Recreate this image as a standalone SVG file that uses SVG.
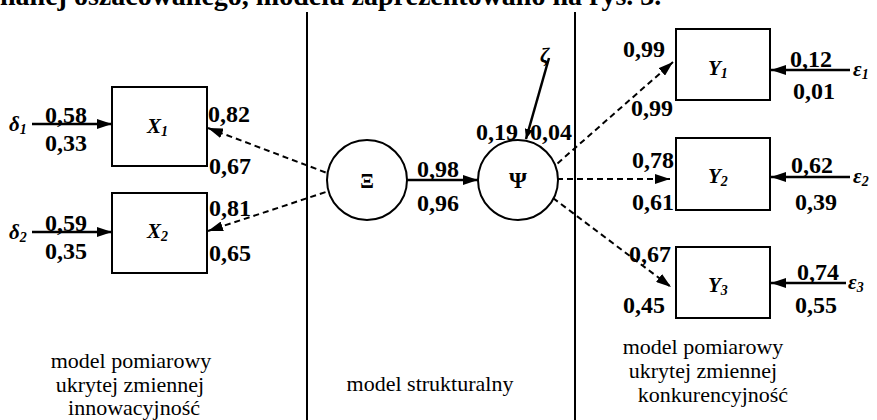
<svg xmlns="http://www.w3.org/2000/svg" width="877" height="420" viewBox="0 0 877 420">
<defs>
<marker id="ah" markerWidth="10" markerHeight="8" refX="10" refY="4" orient="auto" markerUnits="userSpaceOnUse">
<path d="M0,0 L10,4 L0,8 Z" fill="#000"/>
</marker>
<marker id="ahb" markerWidth="16" markerHeight="10" refX="15" refY="5" orient="auto" markerUnits="userSpaceOnUse">
<path d="M0,0 L15,5 L0,10 Z" fill="#000"/>
</marker>
<style>
text{font-family:"Liberation Serif","Times New Roman",serif;fill:#000}
.n{font-size:24px;font-weight:bold}
.v{font-size:21px;font-style:italic;font-weight:bold}
.s{font-size:14px}
.lbl{font-size:22px;text-anchor:middle}
.box{fill:#fff;stroke:#000;stroke-width:2}
.circ{fill:#fff;stroke:#000;stroke-width:2}
.solid{stroke:#000;stroke-width:2.5;fill:none}
.dash{stroke:#000;stroke-width:2;stroke-dasharray:6,4;fill:none}
.sep{stroke:#000;stroke-width:2}
</style>
</defs>
<rect width="877" height="420" fill="#fff"/>
<text x="0" y="5" style="font-size:28px;font-weight:bold">nanej oszacowanego, modelu zaprezentowano na rys. 3.</text>
<g id="separators">
<line class="sep" x1="307" y1="12" x2="307" y2="420"/>
<line class="sep" x1="575" y1="12" x2="575" y2="420"/>
</g>
<g id="connectors">
<line class="solid" x1="32" y1="124" x2="112" y2="124" marker-end="url(#ahb)"/>
<line class="solid" x1="32" y1="232" x2="112" y2="232" marker-end="url(#ahb)"/>
<line class="dash" x1="335" y1="176" x2="208" y2="128" marker-end="url(#ahb)"/>
<line class="dash" x1="335" y1="189" x2="208" y2="231" marker-end="url(#ahb)"/>
<line class="solid" x1="407" y1="180" x2="478" y2="180" marker-end="url(#ahb)"/>
<line class="solid" x1="549" y1="58" x2="526" y2="139" marker-end="url(#ah)"/>
<line class="dash" x1="550" y1="170" x2="673" y2="62" marker-end="url(#ahb)"/>
<line class="dash" x1="557" y1="179" x2="670" y2="179" marker-end="url(#ahb)"/>
<line class="dash" x1="545" y1="192" x2="671" y2="287" marker-end="url(#ahb)"/>
<line class="solid" x1="850" y1="70" x2="771" y2="70" marker-end="url(#ahb)"/>
<line class="solid" x1="850" y1="177" x2="771" y2="177" marker-end="url(#ahb)"/>
<line class="solid" x1="846" y1="283" x2="771" y2="283" marker-end="url(#ahb)"/>
</g>
<g id="X1">
<rect class="box" x="112" y="87" width="95" height="79"/>
<text class="v" x="147" y="133">X<tspan class="s" dy="3">1</tspan></text>
</g>
<g id="X2">
<rect class="box" x="112" y="193" width="95" height="80"/>
<text class="v" x="147" y="238">X<tspan class="s" dy="3">2</tspan></text>
</g>
<g id="Xi">
<circle class="circ" cx="367" cy="180" r="40"/>
<text x="367" y="188" style="font-size:20px;font-weight:bold;text-anchor:middle">Ξ</text>
</g>
<g id="Psi">
<circle class="circ" cx="518" cy="180" r="40"/>
<text x="518" y="188" style="font-size:23px;font-weight:bold;text-anchor:middle">Ψ</text>
</g>
<g id="Y1">
<rect class="box" x="676" y="29" width="94" height="71"/>
<text class="v" x="708" y="75">Y<tspan class="s" dy="3">1</tspan></text>
</g>
<g id="Y2">
<rect class="box" x="676" y="138" width="94" height="72"/>
<text class="v" x="708" y="183">Y<tspan class="s" dy="3">2</tspan></text>
</g>
<g id="Y3">
<rect class="box" x="676" y="247" width="94" height="71"/>
<text class="v" x="708" y="292">Y<tspan class="s" dy="3">3</tspan></text>
</g>
<g id="errors">
<text class="v" x="9" y="131">δ<tspan class="s" dy="3">1</tspan></text>
<text class="v" x="9" y="239">δ<tspan class="s" dy="3">2</tspan></text>
<text class="v" x="540" y="62">ζ</text>
<text class="v" x="853" y="76">ε<tspan class="s" dy="3">1</tspan></text>
<text class="v" x="853" y="183">ε<tspan class="s" dy="3">2</tspan></text>
<text class="v" x="848" y="289">ε<tspan class="s" dy="3">3</tspan></text>
</g>
<g id="coefficients">
<text class="n" x="45" y="123">0,58</text>
<text class="n" x="45" y="151">0,33</text>
<text class="n" x="45" y="231">0,59</text>
<text class="n" x="45" y="259">0,35</text>
<text class="n" x="208" y="122">0,82</text>
<text class="n" x="209" y="174">0,67</text>
<text class="n" x="209" y="216">0,81</text>
<text class="n" x="209" y="261">0,65</text>
<text class="n" x="417" y="177">0,98</text>
<text class="n" x="417" y="211">0,96</text>
<text class="n" x="476" y="140">0,19</text>
<text class="n" x="530" y="140">0,04</text>
<text class="n" x="623" y="57">0,99</text>
<text class="n" x="631" y="116">0,99</text>
<text class="n" x="632" y="168">0,78</text>
<text class="n" x="632" y="210">0,61</text>
<text class="n" x="629" y="262">0,67</text>
<text class="n" x="623" y="313">0,45</text>
<text class="n" x="790" y="67">0,12</text>
<text class="n" x="793" y="99">0,01</text>
<text class="n" x="791" y="173">0,62</text>
<text class="n" x="795" y="210">0,39</text>
<text class="n" x="797" y="280">0,74</text>
<text class="n" x="795" y="313">0,55</text>
</g>
<g id="labels">
<text class="lbl" x="131" y="368">model pomiarowy</text>
<text class="lbl" x="130" y="392">ukrytej zmiennej</text>
<text class="lbl" x="134" y="415">innowacyjność</text>
<text class="lbl" x="430" y="391">model strukturalny</text>
<text class="lbl" x="703" y="354">model pomiarowy</text>
<text class="lbl" x="703" y="378">ukrytej zmiennej</text>
<text class="lbl" x="713" y="402">konkurencyjność</text>
</g>
</svg>
